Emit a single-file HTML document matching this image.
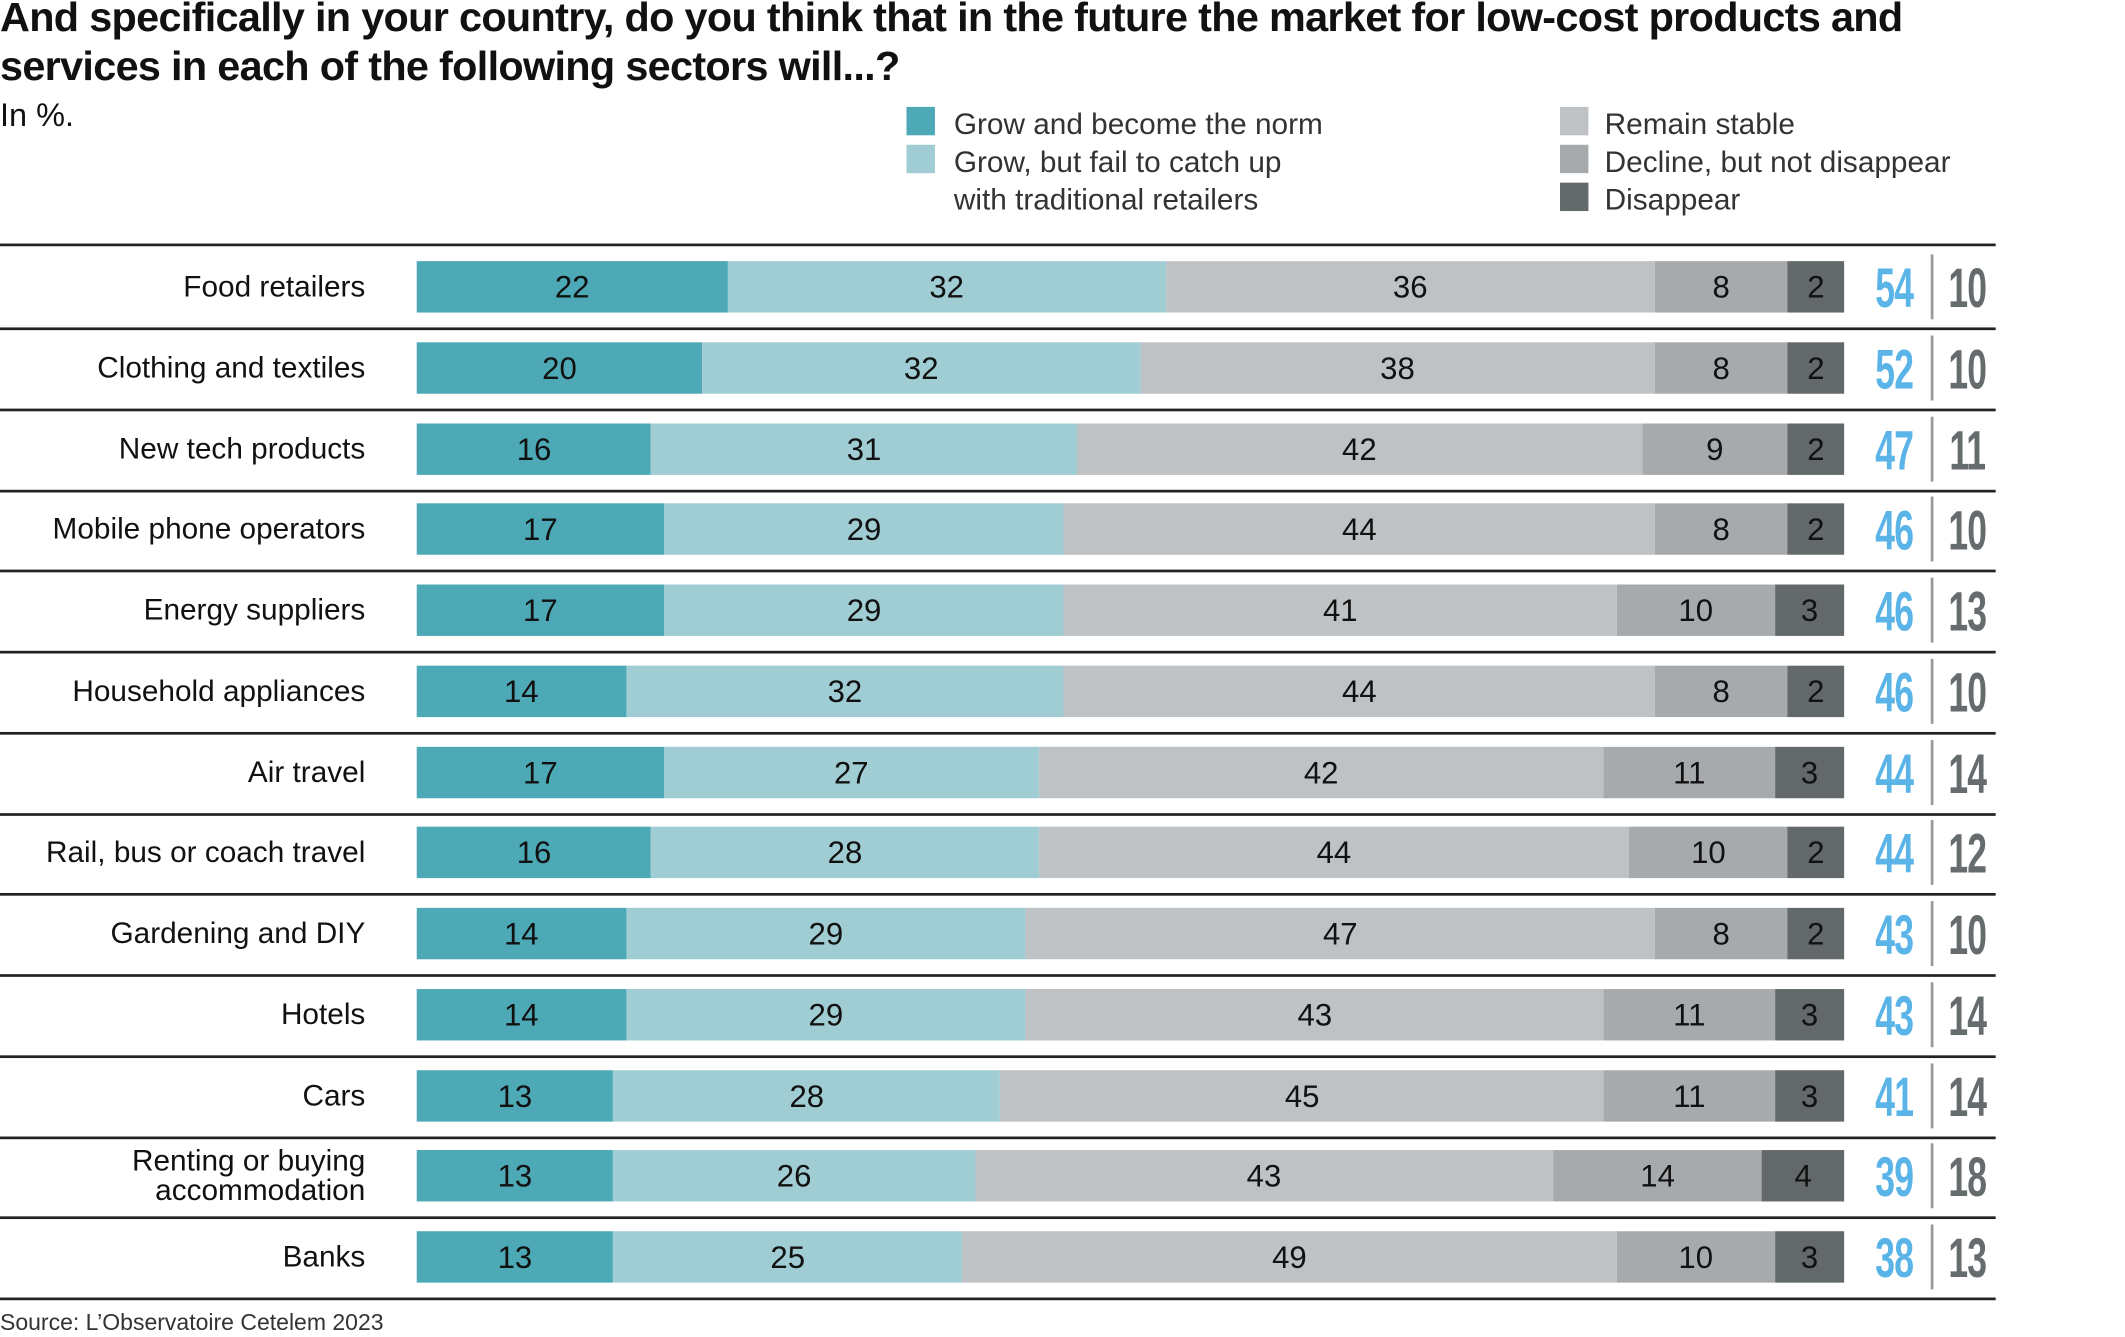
<!DOCTYPE html>
<html><head><meta charset="utf-8"><style>
html,body{margin:0;padding:0;background:#fff;width:2125px;height:1337px;overflow:hidden}
#w{position:absolute;left:0;top:0;width:1548px;height:974px;transform:scale(1.353);transform-origin:0 0;font-family:"Liberation Sans",sans-serif;color:#111}
.t{position:absolute;left:0;font-weight:bold;font-size:30px;letter-spacing:-0.5px;white-space:nowrap;line-height:36px;transform:scaleX(1.02);transform-origin:0 0}
.sub{position:absolute;left:0;top:72px;font-size:24px}
.lg{position:absolute;font-size:22px;line-height:28px;color:#333}
.sq{position:absolute;width:21px;height:21px}
.row{position:absolute;left:0;width:1475px;height:60px;border-bottom:2px solid #222}
.lab{position:absolute;left:0;top:0;height:60px;display:flex;align-items:center;justify-content:flex-end;text-align:right;font-size:22px;line-height:22px;width:270px}
.bar{position:absolute;left:308px;top:11px;width:1055px;height:38px;display:flex}
.bar div{display:flex;align-items:center;justify-content:center;font-size:23px;color:#111;min-width:0}
.a{background:#4da9b6}.b{background:#a0cdd3}.c{background:#bec2c5}.d{background:#a7aaad}.e{background:#63686b}
.tot,.neg{position:absolute;top:8px;width:60px;text-align:center;font-size:41px;font-weight:bold;transform:scaleX(0.64);letter-spacing:-1px}
.tot{left:1370px;color:#5ab4e8}
.neg{left:1424px;color:#666b6e}
.dv{position:absolute;left:1427px;top:6px;width:2px;height:48px;background:#999}
</style></head><body><div id="w">
<div class="t" style="top:-4px">And specifically in your country, do you think that in the future the market for low-cost products and</div>
<div class="t" style="top:32px">services in each of the following sectors will...?</div>
<div class="sub">In %.</div>
<div class="sq a" style="left:670px;top:79px"></div><div class="sq b" style="left:670px;top:107px"></div>
<div class="lg" style="left:705px;top:78px">Grow and become the norm</div>
<div class="lg" style="left:705px;top:106px">Grow, but fail to catch up<br>with traditional retailers</div>
<div class="sq c" style="left:1153px;top:79px"></div><div class="sq d" style="left:1153px;top:107px"></div><div class="sq e" style="left:1153px;top:135px"></div>
<div class="lg" style="left:1186px;top:78px">Remain stable<br>Decline, but not disappear<br>Disappear</div>
<div style="position:absolute;left:0;top:180px;width:1475px;height:2px;background:#222"></div>

<div class="row" style="top:182px"><div class="lab">Food retailers</div><div class="bar"><div class="a" style="flex:22 0 23px">22</div><div class="b" style="flex:32 0 23px">32</div><div class="c" style="flex:36 0 23px">36</div><div class="d" style="flex:8 0 23px">8</div><div class="e" style="flex:2 0 23px">2</div></div><div class="tot">54</div><div class="dv"></div><div class="neg">10</div></div>
<div class="row" style="top:242px"><div class="lab">Clothing and textiles</div><div class="bar"><div class="a" style="flex:20 0 23px">20</div><div class="b" style="flex:32 0 23px">32</div><div class="c" style="flex:38 0 23px">38</div><div class="d" style="flex:8 0 23px">8</div><div class="e" style="flex:2 0 23px">2</div></div><div class="tot">52</div><div class="dv"></div><div class="neg">10</div></div>
<div class="row" style="top:302px"><div class="lab">New tech products</div><div class="bar"><div class="a" style="flex:16 0 23px">16</div><div class="b" style="flex:31 0 23px">31</div><div class="c" style="flex:42 0 23px">42</div><div class="d" style="flex:9 0 23px">9</div><div class="e" style="flex:2 0 23px">2</div></div><div class="tot">47</div><div class="dv"></div><div class="neg">11</div></div>
<div class="row" style="top:361px"><div class="lab">Mobile phone operators</div><div class="bar"><div class="a" style="flex:17 0 23px">17</div><div class="b" style="flex:29 0 23px">29</div><div class="c" style="flex:44 0 23px">44</div><div class="d" style="flex:8 0 23px">8</div><div class="e" style="flex:2 0 23px">2</div></div><div class="tot">46</div><div class="dv"></div><div class="neg">10</div></div>
<div class="row" style="top:421px"><div class="lab">Energy suppliers</div><div class="bar"><div class="a" style="flex:17 0 23px">17</div><div class="b" style="flex:29 0 23px">29</div><div class="c" style="flex:41 0 23px">41</div><div class="d" style="flex:10 0 23px">10</div><div class="e" style="flex:3 0 23px">3</div></div><div class="tot">46</div><div class="dv"></div><div class="neg">13</div></div>
<div class="row" style="top:481px"><div class="lab">Household appliances</div><div class="bar"><div class="a" style="flex:14 0 23px">14</div><div class="b" style="flex:32 0 23px">32</div><div class="c" style="flex:44 0 23px">44</div><div class="d" style="flex:8 0 23px">8</div><div class="e" style="flex:2 0 23px">2</div></div><div class="tot">46</div><div class="dv"></div><div class="neg">10</div></div>
<div class="row" style="top:541px"><div class="lab">Air travel</div><div class="bar"><div class="a" style="flex:17 0 23px">17</div><div class="b" style="flex:27 0 23px">27</div><div class="c" style="flex:42 0 23px">42</div><div class="d" style="flex:11 0 23px">11</div><div class="e" style="flex:3 0 23px">3</div></div><div class="tot">44</div><div class="dv"></div><div class="neg">14</div></div>
<div class="row" style="top:600px"><div class="lab">Rail, bus or coach travel</div><div class="bar"><div class="a" style="flex:16 0 23px">16</div><div class="b" style="flex:28 0 23px">28</div><div class="c" style="flex:44 0 23px">44</div><div class="d" style="flex:10 0 23px">10</div><div class="e" style="flex:2 0 23px">2</div></div><div class="tot">44</div><div class="dv"></div><div class="neg">12</div></div>
<div class="row" style="top:660px"><div class="lab">Gardening and DIY</div><div class="bar"><div class="a" style="flex:14 0 23px">14</div><div class="b" style="flex:29 0 23px">29</div><div class="c" style="flex:47 0 23px">47</div><div class="d" style="flex:8 0 23px">8</div><div class="e" style="flex:2 0 23px">2</div></div><div class="tot">43</div><div class="dv"></div><div class="neg">10</div></div>
<div class="row" style="top:720px"><div class="lab">Hotels</div><div class="bar"><div class="a" style="flex:14 0 23px">14</div><div class="b" style="flex:29 0 23px">29</div><div class="c" style="flex:43 0 23px">43</div><div class="d" style="flex:11 0 23px">11</div><div class="e" style="flex:3 0 23px">3</div></div><div class="tot">43</div><div class="dv"></div><div class="neg">14</div></div>
<div class="row" style="top:780px"><div class="lab">Cars</div><div class="bar"><div class="a" style="flex:13 0 23px">13</div><div class="b" style="flex:28 0 23px">28</div><div class="c" style="flex:45 0 23px">45</div><div class="d" style="flex:11 0 23px">11</div><div class="e" style="flex:3 0 23px">3</div></div><div class="tot">41</div><div class="dv"></div><div class="neg">14</div></div>
<div class="row" style="top:839px"><div class="lab">Renting or buying<br>accommodation</div><div class="bar"><div class="a" style="flex:13 0 23px">13</div><div class="b" style="flex:26 0 23px">26</div><div class="c" style="flex:43 0 23px">43</div><div class="d" style="flex:14 0 23px">14</div><div class="e" style="flex:4 0 23px">4</div></div><div class="tot">39</div><div class="dv"></div><div class="neg">18</div></div>
<div class="row" style="top:899px"><div class="lab">Banks</div><div class="bar"><div class="a" style="flex:13 0 23px">13</div><div class="b" style="flex:25 0 23px">25</div><div class="c" style="flex:49 0 23px">49</div><div class="d" style="flex:10 0 23px">10</div><div class="e" style="flex:3 0 23px">3</div></div><div class="tot">38</div><div class="dv"></div><div class="neg">13</div></div>
<div style="position:absolute;left:0;top:968px;font-size:17px;color:#333">Source: L’Observatoire Cetelem 2023</div>
</div></body></html>
